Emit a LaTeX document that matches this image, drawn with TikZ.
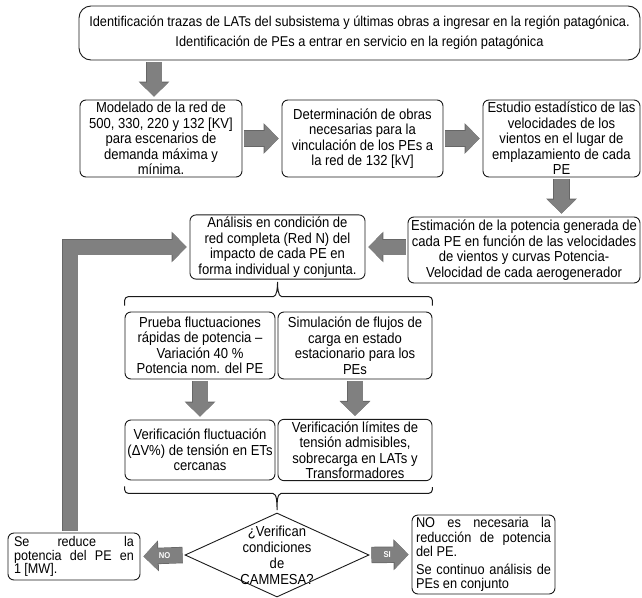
\documentclass[tikz,border=0pt]{standalone}
\usepackage{fontspec}
\setmainfont{Liberation Sans}[FakeStretch=0.9]
\usepackage{tikz}
\usetikzlibrary{shapes.geometric, arrows.meta, calc}
\definecolor{colorArrow}{HTML}{808080}
\definecolor{colorArrowEdge}{HTML}{666666}
\definecolor{colorLine}{HTML}{1a1a1a}
\newcommand{\boxfont}{\fontsize{14.5}{15.5}\selectfont}

\begin{document}
\begin{tikzpicture}[x=1pt, y=-1pt,
    box/.style={draw=colorLine, line width=0.9pt, rounded corners=6pt, fill=white, align=center, font=\boxfont, inner sep=2pt},
    fat/.style={draw=colorArrow, line width=15pt, -{Triangle[length=14pt,width=28pt]}, shorten <=2pt, shorten >=3pt,
        preaction={draw=colorArrowEdge, line width=16.4pt, -{Triangle[length=15pt,width=30pt]}}},
    bracket/.style={draw=colorLine, line width=1pt, rounded corners=4pt},
    decision/.style={diamond, draw=colorLine, line width=0.9pt, minimum width=184pt, minimum height=84pt, inner sep=0pt},
    tag/.style={text=white, font=\fontsize{8.5}{8.5}\selectfont\bfseries}]
    \useasboundingbox (0,0) rectangle (642,597);
    \node[box, rounded corners=12pt, minimum width=561pt, minimum height=54pt, font=\fontsize{14.2}{20}\selectfont] (top) at (359.5,33)
        {Identificación trazas de LATs del subsistema y últimas obras a ingresar en la región patagónica.\\Identificación de PEs a entrar en servicio en la región patagónica};
    \node[box, minimum width=162pt, minimum height=77pt] (model) at (161,138.5)
        {Modelado de la red de\\500, 330, 220 y 132 [KV]\\para escenarios de\\demanda máxima y\\mínima.};
    \node[box, minimum width=161pt, minimum height=77pt] (determ) at (362.5,138.5)
        {Determinación de obras\\necesarias para la\\vinculación de los PEs a\\la red de 132 [kV]};
    \node[box, minimum width=157pt, minimum height=77pt] (estudio) at (561.5,138.5)
        {Estudio estadístico de las\\velocidades de los\\vientos en el lugar de\\emplazamiento de cada\\PE};
    \node[box, minimum width=232pt, minimum height=66pt] (estim) at (524,250)
        {Estimación de la potencia generada de\\cada PE en función de las velocidades\\de vientos y curvas Potencia-\\Velocidad de cada aerogenerador};
    \node[box, minimum width=175pt, minimum height=62pt] (analisis) at (277.5,247)
        {Análisis en condición de\\red completa (Red N) del\\impacto de cada PE en\\forma individual y conjunta.};
    \node[box, minimum width=150pt, minimum height=67pt] (prueba) at (200,345.5)
        {Prueba fluctuaciones\\rápidas de potencia –\\Variación 40 \%\\Potencia nom. del PE};
    \node[box, minimum width=154pt, minimum height=67pt] (simul) at (355,345.5)
        {Simulación de flujos de\\carga en estado\\estacionario para los\\PEs};
    \node[box, minimum width=150pt, minimum height=60pt] (verif1) at (200,450)
        {Verificación fluctuación\\(ΔV\%) de tensión en ETs\\cercanas};
    \node[box, minimum width=154pt, minimum height=60pt] (verif2) at (355,450)
        {Verificación límites de\\tensión admisibles,\\sobrecarga en LATs y\\Transformadores};
    \node[decision, label={[align=center, font=\fontsize{14.5}{16}\selectfont]center:{¿Verifican\\condiciones\\de\\CAMMESA?}}] (check) at (277,555) {};
    \node[box, minimum width=132pt, minimum height=47pt, text width=120pt, align=justify, font=\fontsize{14}{13.5}\selectfont] (reduce) at (74,556.5)
        {Se reduce la\linebreak potencia del PE en\linebreak 1 [MW].};
    \node[box, minimum width=143pt, minimum height=79pt, text width=135pt, align=justify, font=\fontsize{14.2}{14.5}\selectfont] (cont) at (483.5,554.5)
        {NO es necesaria la\linebreak reducción de potencia\linebreak del PE.\par\vspace{3pt}Se continuo análisis de\linebreak PEs en conjunto};

    \draw[fat] ([xshift=-7pt]model.north |- top.south) -- ([xshift=-7pt]model.north);
    \draw[fat] (model.east) -- (determ.west);
    \draw[fat] (determ.east) -- (determ.east -| estudio.west);
    \draw[fat] (estudio.south) -- (estudio.south |- estim.north);
    \draw[fat] (estim.west |- analisis.east) -- (analisis.east);
    \draw[fat] (prueba.south) -- (verif1.north);
    \draw[fat] (simul.south) -- (verif2.north);
    \draw[fat] ([xshift=-4pt]reduce.north) |- (analisis.west);
    \draw[fat] (check.west) -- (reduce.east) node[tag, pos=0.45] {NO};
    \draw[fat] (check.east) -- (cont.west) node[tag, pos=0.42] {SI};

    \coordinate (bt) at ([yshift=15pt]analisis.south |- prueba.north);
    \coordinate (bb) at ([yshift=-13pt]check.north |- verif1.south);
    \draw[bracket] ([yshift=6pt]prueba.north west) |- ([xshift=-8pt]bt) to[out=0,in=-90] (analisis.south)
        to[out=-90,in=180] ([xshift=8pt]bt) -| ([yshift=6pt]simul.north east);
    \draw[bracket] ([yshift=-6pt]verif1.south west) |- ([xshift=-8pt]bb) to[out=0,in=90] (check.north)
        to[out=90,in=180] ([xshift=8pt]bb) -| ([yshift=-6pt]verif2.south east);
\end{tikzpicture}
\end{document}
